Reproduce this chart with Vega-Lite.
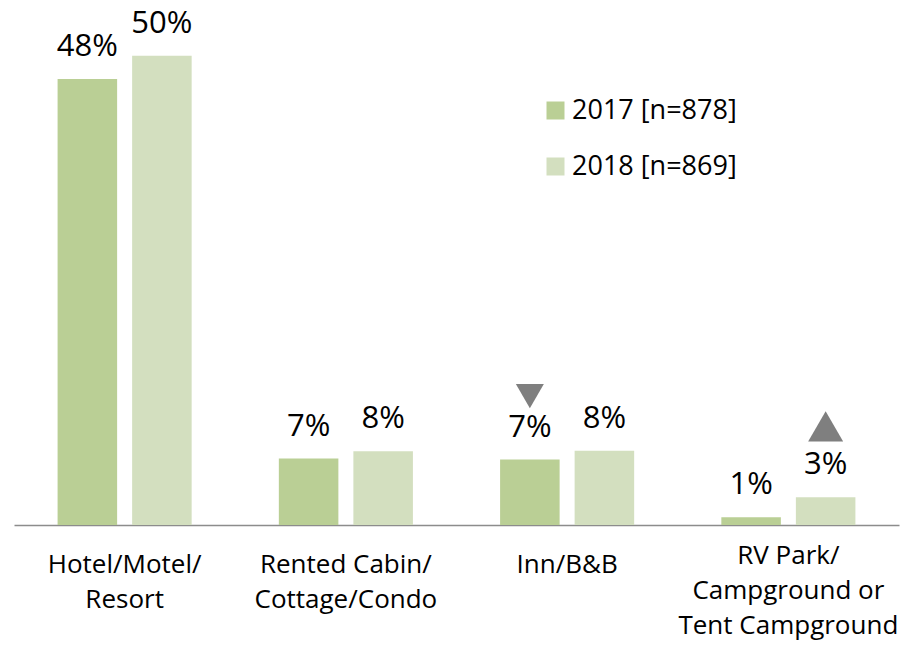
{
  "$schema": "https://vega.github.io/schema/vega-lite/v6.json",
  "autosize": "none",
  "width": 885,
  "height": 488,
  "padding": {"left": 14, "top": 37, "right": 7, "bottom": 123},
  "background": "white",
  "config": {
    "view": {"stroke": null},
    "font": "Open Sans"
  },
  "data": {
    "values": [
      {"category": "Hotel/Motel/\nResort", "year": "2017 [n=878]", "value": 47.7, "label": "48%", "marker": ""},
      {"category": "Hotel/Motel/\nResort", "year": "2018 [n=869]", "value": 50.2, "label": "50%", "marker": ""},
      {"category": "Rented Cabin/\nCottage/Condo", "year": "2017 [n=878]", "value": 7.1, "label": "7%", "marker": ""},
      {"category": "Rented Cabin/\nCottage/Condo", "year": "2018 [n=869]", "value": 7.9, "label": "8%", "marker": ""},
      {"category": "Inn/B&B", "year": "2017 [n=878]", "value": 7.0, "label": "7%", "marker": "down"},
      {"category": "Inn/B&B", "year": "2018 [n=869]", "value": 7.95, "label": "8%", "marker": ""},
      {"category": "RV Park/\nCampground or\nTent Campground", "year": "2017 [n=878]", "value": 0.82, "label": "1%", "marker": ""},
      {"category": "RV Park/\nCampground or\nTent Campground", "year": "2018 [n=869]", "value": 2.96, "label": "3%", "marker": "up"}
    ]
  },
  "encoding": {
    "x": {
      "field": "category",
      "type": "nominal",
      "sort": null,
      "scale": {"paddingInner": 0.394, "paddingOuter": 0.197},
      "axis": {
        "title": null,
        "labelAngle": 0,
        "labelExpr": "split(datum.label, '\\n')",
        "labelFont": "Open Sans",
        "labelFontSize": 26,
        "labelColor": "#000000",
        "labelLineHeight": 35,
        "labelBaseline": "top",
        "labelLimit": 400,
        "labelPadding": {"condition": {"test": "indexof(datum.value, 'RV') == 0", "value": 17}, "value": 26},
        "ticks": false,
        "domainColor": "#8c8c8c",
        "domainWidth": 1.5,
        "grid": false
      }
    },
    "xOffset": {
      "field": "year",
      "type": "nominal",
      "scale": {"paddingInner": 0.2013, "paddingOuter": 0}
    },
    "y": {
      "field": "value",
      "type": "quantitative",
      "scale": {"domain": [0, 52.2], "nice": false, "zero": true},
      "axis": null
    }
  },
  "layer": [
    {
      "mark": {"type": "bar"},
      "encoding": {
        "color": {
          "field": "year",
          "type": "nominal",
          "scale": {"domain": ["2017 [n=878]", "2018 [n=869]"], "range": ["#bacf95", "#d3dfbf"]},
          "legend": {
            "title": null,
            "orient": "none",
            "legendX": 528,
            "legendY": 60,
            "padding": 0,
            "symbolType": "square",
            "symbolSize": 324,
            "symbolStrokeWidth": 0,
            "symbolOpacity": 1,
            "labelFont": "Open Sans",
            "labelFontSize": 27,
            "labelColor": "#000000",
            "labelOffset": 3,
            "rowPadding": 28,
            "labelLimit": 400
          }
        }
      }
    },
    {
      "mark": {"type": "text", "baseline": "alphabetic", "dy": -23, "font": "Open Sans", "fontSize": 31, "color": "#000000"},
      "encoding": {"text": {"field": "label"}}
    },
    {
      "transform": [{"filter": "datum.marker == 'down'"}],
      "mark": {"type": "point", "shape": "triangle-down", "filled": true, "color": "#7f7f7f", "opacity": 1, "size": 784, "yOffset": -63.5, "xOffset": 2}
    },
    {
      "transform": [{"filter": "datum.marker == 'up'"}],
      "mark": {"type": "point", "shape": "triangle-up", "filled": true, "color": "#7f7f7f", "opacity": 1, "size": 1225, "yOffset": -71, "xOffset": 3}
    }
  ]
}
